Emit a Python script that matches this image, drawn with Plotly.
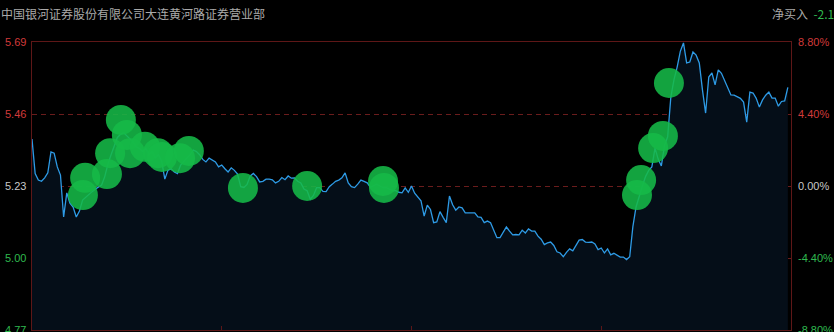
import plotly.graph_objects as go

# ---- data ----
title_text = "中国银河证券股份有限公司大连黄河路证券营业部"
net_label = "净买入"
net_value = "-2.1"
prev_close = 5.23
price_ticks = [4.77, 5.00, 5.23, 5.46, 5.69]
time_ticks = [0, 60, 120, 180, 240]

prices = [
    5.380, 5.270, 5.249, 5.245, 5.256, 5.272, 5.339, 5.335, 5.291, 5.265,
    5.131, 5.208, 5.175, 5.163, 5.131, 5.150, 5.185, 5.195, 5.205, 5.212,
    5.220, 5.227, 5.233, 5.260, 5.300, 5.330, 5.360, 5.385, 5.395, 5.400,
    5.390, 5.380, 5.370, 5.355, 5.350, 5.340, 5.350, 5.330, 5.340, 5.320,
    5.330, 5.310, 5.252, 5.281, 5.285, 5.275, 5.270, 5.297, 5.310, 5.320,
    5.330, 5.345, 5.340, 5.330, 5.315, 5.307, 5.319, 5.312, 5.307, 5.291,
    5.297, 5.285, 5.275, 5.288, 5.280, 5.268, 5.228, 5.225, 5.235, 5.262,
    5.270, 5.260, 5.243, 5.245, 5.252, 5.252, 5.250, 5.240, 5.245, 5.257,
    5.250, 5.262, 5.255, 5.256, 5.245, 5.240, 5.220, 5.215, 5.188, 5.200,
    5.225, 5.225, 5.213, 5.212, 5.228, 5.236, 5.245, 5.249, 5.256, 5.272,
    5.240, 5.228, 5.225, 5.236, 5.249, 5.245, 5.240, 5.226, 5.230, 5.236,
    5.230, 5.225, 5.225, 5.220, 5.215, 5.215, 5.210, 5.208, 5.224, 5.210,
    5.230, 5.207, 5.195, 5.183, 5.134, 5.169, 5.155, 5.113, 5.115, 5.148,
    5.130, 5.113, 5.198, 5.170, 5.153, 5.163, 5.160, 5.144, 5.144, 5.145,
    5.144, 5.131, 5.130, 5.113, 5.118, 5.113, 5.090, 5.065, 5.065, 5.080,
    5.099, 5.086, 5.074, 5.075, 5.074, 5.089, 5.080, 5.093, 5.086, 5.086,
    5.070, 5.060, 5.043, 5.048, 5.051, 5.040, 5.020, 5.016, 5.004, 5.018,
    5.029, 5.023, 5.040, 5.057, 5.059, 5.051, 5.050, 5.051, 5.045, 5.027,
    5.032, 5.016, 5.029, 5.010, 5.015, 5.008, 5.003, 5.003, 4.995, 5.004,
    5.100, 5.163, 5.200, 5.230, 5.260, 5.280, 5.291, 5.351, 5.316, 5.294,
    5.360, 5.387, 5.514, 5.570, 5.610, 5.660, 5.687, 5.623, 5.626, 5.658,
    5.648, 5.623, 5.537, 5.463, 5.578, 5.591, 5.553, 5.601, 5.590, 5.565,
    5.546, 5.521, 5.520, 5.514, 5.510, 5.498, 5.434, 5.530, 5.527, 5.510,
    5.482, 5.505, 5.520, 5.530, 5.511, 5.511, 5.485, 5.500, 5.502, 5.545,
]
minutes = list(range(len(prices)))

trade_minutes = [16.8, 16.1, 23.7, 24.7, 30.0, 28.1, 31.0, 35.7, 39.8, 41.1,
                 46.8, 49.6, 66.7, 87.0, 111.0, 111.3, 191.3, 192.6, 196.4,
                 199.5, 201.4]
trade_prices = [5.256, 5.201, 5.268, 5.335, 5.393, 5.441, 5.335, 5.355, 5.335,
                5.323, 5.319, 5.342, 5.224, 5.230, 5.246, 5.224, 5.201, 5.249,
                5.351, 5.390, 5.559]

# ---- style ----
RED = "#d23a3a"
GREEN = "#2fb94f"
GRAY = "#c8c8c8"
FRAME = "#5e1717"
GRID = "#6a1c1c"
NUM_FONT = "Liberation Sans, Arial, sans-serif"
CJK_FONT = "Noto Sans CJK SC, sans-serif"

W, H = 834, 332
ML, MR, MT, MB = 32, 43, 42, 2
plot_w = W - ML - MR
plot_h = H - MT - MB

def px_to_paper_x(px):
    return (px - ML) / plot_w

def px_to_paper_y(py):
    return (H - MB - py) / plot_h

fig = go.Figure()
fig.add_trace(go.Scatter(
    x=minutes, y=prices, mode="lines",
    line=dict(color="#2e9be6", width=1.3),
    fill="tozeroy", fillcolor="#050e18",
    hoverinfo="skip", showlegend=False,
))
fig.add_trace(go.Scatter(
    x=trade_minutes, y=trade_prices, mode="markers",
    marker=dict(size=30, color="rgba(22,186,72,0.88)", line=dict(width=0)),
    hoverinfo="skip", showlegend=False,
))

def color_for(v):
    if abs(v - prev_close) < 1e-9:
        return GRAY
    return RED if v > prev_close else GREEN

annotations = []
for v in price_ticks:
    c = color_for(v)
    pct = (v - prev_close) / prev_close * 100
    annotations.append(dict(
        x=px_to_paper_x(3), xref="paper", y=v, yref="y",
        xanchor="left", yanchor="middle", showarrow=False,
        text=f"{v:.2f}", font=dict(family=NUM_FONT, size=11, color=c)))
    annotations.append(dict(
        x=px_to_paper_x(796), xref="paper", y=v, yref="y",
        xanchor="left", yanchor="middle", showarrow=False,
        text=f"{pct:.2f}%", font=dict(family=NUM_FONT, size=11, color=c)))

annotations.append(dict(
    x=px_to_paper_x(-1), xref="paper", y=px_to_paper_y(13), yref="paper",
    xanchor="left", yanchor="middle", showarrow=False,
    text=title_text, font=dict(family=CJK_FONT, size=12, color="#aaaaaa")))
annotations.append(dict(
    x=px_to_paper_x(836), xref="paper", y=px_to_paper_y(13), yref="paper",
    xanchor="right", yanchor="middle", showarrow=False,
    text=f"{net_label}  <span style='color:{GREEN}'>{net_value}</span>",
    font=dict(family=CJK_FONT, size=12, color="#aaaaaa")))

fig.update_layout(
    width=W, height=H,
    margin=dict(l=ML, r=MR, t=MT, b=MB),
    paper_bgcolor="#000000", plot_bgcolor="#000000",
    annotations=annotations,
    xaxis=dict(
        range=[0, 240], tickvals=time_ticks, showticklabels=False,
        ticks="inside", ticklen=4, tickcolor=FRAME, tickwidth=1,
        showgrid=False, zeroline=False,
        showline=True, linecolor=FRAME, linewidth=1, mirror=True,
    ),
    yaxis=dict(
        range=[price_ticks[0], price_ticks[-1]], tickvals=price_ticks[1:-1],
        showticklabels=False, ticks="",
        showgrid=True, gridcolor=GRID, gridwidth=1, griddash="5px,4px",
        zeroline=False,
        showline=True, linecolor=FRAME, linewidth=1, mirror=True,
    ),
)

fig.write_html("out.html")
